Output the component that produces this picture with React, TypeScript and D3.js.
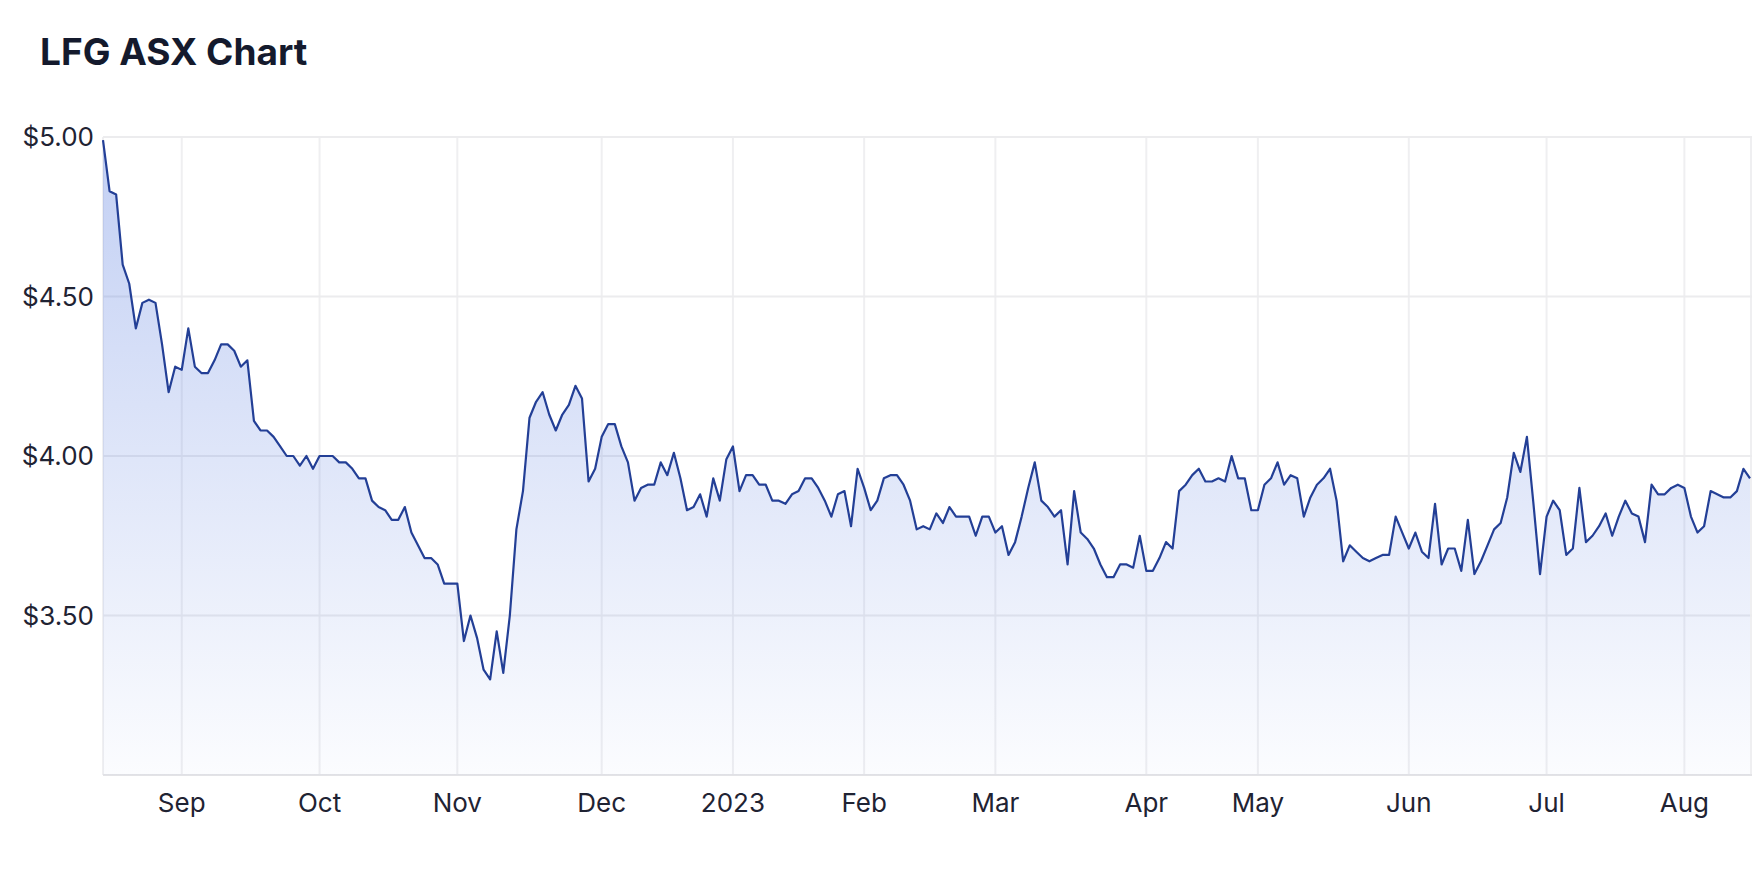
import React from "react";
import * as d3 from "d3";

const TITLE = "LFG ASX Chart";

// Daily closing prices (trading days, 16 Aug 2022 – 15 Aug 2023)
const prices: number[] = [
  4.99, 4.83, 4.82, 4.60, 4.54, 4.40, 4.48, 4.49, 4.48, 4.35,
  4.20, 4.28, 4.27, 4.40, 4.28, 4.26, 4.26, 4.30, 4.35, 4.35,
  4.33, 4.28, 4.30, 4.11, 4.08, 4.08, 4.06, 4.03, 4.00, 4.00,
  3.97, 4.00, 3.96, 4.00, 4.00, 4.00, 3.98, 3.98, 3.96, 3.93,
  3.93, 3.86, 3.84, 3.83, 3.80, 3.80, 3.84, 3.76, 3.72, 3.68,
  3.68, 3.66, 3.60, 3.60, 3.60, 3.42, 3.50, 3.43, 3.33, 3.30,
  3.45, 3.32, 3.50, 3.77, 3.89, 4.12, 4.17, 4.20, 4.13, 4.08,
  4.13, 4.16, 4.22, 4.18, 3.92, 3.96, 4.06, 4.10, 4.10, 4.03,
  3.98, 3.86, 3.90, 3.91, 3.91, 3.98, 3.94, 4.01, 3.93, 3.83,
  3.84, 3.88, 3.81, 3.93, 3.86, 3.99, 4.03, 3.89, 3.94, 3.94,
  3.91, 3.91, 3.86, 3.86, 3.85, 3.88, 3.89, 3.93, 3.93, 3.90,
  3.86, 3.81, 3.88, 3.89, 3.78, 3.96, 3.90, 3.83, 3.86, 3.93,
  3.94, 3.94, 3.91, 3.86, 3.77, 3.78, 3.77, 3.82, 3.79, 3.84,
  3.81, 3.81, 3.81, 3.75, 3.81, 3.81, 3.76, 3.78, 3.69, 3.73,
  3.81, 3.90, 3.98, 3.86, 3.84, 3.81, 3.83, 3.66, 3.89, 3.76,
  3.74, 3.71, 3.66, 3.62, 3.62, 3.66, 3.66, 3.65, 3.75, 3.64,
  3.64, 3.68, 3.73, 3.71, 3.89, 3.91, 3.94, 3.96, 3.92, 3.92,
  3.93, 3.92, 4.00, 3.93, 3.93, 3.83, 3.83, 3.91, 3.93, 3.98,
  3.91, 3.94, 3.93, 3.81, 3.87, 3.91, 3.93, 3.96, 3.86, 3.67,
  3.72, 3.70, 3.68, 3.67, 3.68, 3.69, 3.69, 3.81, 3.76, 3.71,
  3.76, 3.70, 3.68, 3.85, 3.66, 3.71, 3.71, 3.64, 3.80, 3.63,
  3.67, 3.72, 3.77, 3.79, 3.87, 4.01, 3.95, 4.06, 3.85, 3.63,
  3.81, 3.86, 3.83, 3.69, 3.71, 3.90, 3.73, 3.75, 3.78, 3.82,
  3.75, 3.81, 3.86, 3.82, 3.81, 3.73, 3.91, 3.88, 3.88, 3.90,
  3.91, 3.90, 3.81, 3.76, 3.78, 3.89, 3.88, 3.87, 3.87, 3.89,
  3.96, 3.93,
];

// Month labels and the trading-day index at which each month starts
const monthLabels: string[] = ["Sep", "Oct", "Nov", "Dec", "2023", "Feb", "Mar", "Apr", "May", "Jun", "Jul", "Aug"];
const monthStartIndex: number[] = [12, 33, 54, 76, 96, 116, 136, 159, 176, 199, 220, 241];

const yTicks: number[] = [3.5, 4.0, 4.5, 5.0];
const yDomain: [number, number] = [3.0, 5.0];

const W = 1760;
const H = 872;
const M = { left: 103, right: 1750, top: 137, bottom: 775 };
const FONT = "Inter, 'Noto Sans', 'DejaVu Sans', sans-serif";

export default function App() {
  const x = d3.scaleLinear().domain([0, prices.length - 1]).range([M.left, M.right]);
  const y = d3.scaleLinear().domain(yDomain).range([M.bottom, M.top]);

  const line = d3
    .line<number>()
    .x((_, i) => x(i))
    .y((d) => y(d));
  const area = d3
    .area<number>()
    .x((_, i) => x(i))
    .y0(M.bottom)
    .y1((d) => y(d));

  return (
    <svg
      width={W}
      height={H}
      style={{ position: "absolute", left: 0, top: 0, background: "#fff" }}
    >
      <defs>
        <linearGradient id="fillGrad" gradientUnits="userSpaceOnUse" x1="0" y1={M.top} x2="0" y2={M.bottom}>
          <stop offset="0%" stopColor="rgb(70,110,220)" stopOpacity={0.33} />
          <stop offset="100%" stopColor="rgb(70,110,220)" stopOpacity={0.02} />
        </linearGradient>
      </defs>

      <text x={40} y={65} fontFamily={FONT} fontWeight={700} fontSize={37} fill="#141a2d">
        {TITLE}
      </text>

      {/* vertical grid lines */}
      {monthStartIndex.map((idx, k) => (
        <line key={"vg" + k} x1={x(idx)} x2={x(idx)} y1={M.top} y2={M.bottom} stroke="#efeff1" strokeWidth={2} />
      ))}
      <line x1={M.left} x2={M.left} y1={M.top} y2={M.bottom} stroke="#efeff1" strokeWidth={2} />
      <line x1={M.right + 1} x2={M.right + 1} y1={M.top} y2={M.bottom} stroke="#efeff1" strokeWidth={2} />

      {/* horizontal grid lines */}
      {yTicks.map((t) => (
        <line key={"hg" + t} x1={M.left} x2={M.right + 2} y1={y(t)} y2={y(t)} stroke="#ececee" strokeWidth={2} />
      ))}
      <line x1={M.left} x2={M.right + 2} y1={M.bottom} y2={M.bottom} stroke="#e3e3e6" strokeWidth={2} />

      <path d={area(prices) || ""} fill="url(#fillGrad)" />
      <path d={line(prices) || ""} fill="none" stroke="#233f96" strokeWidth={2.2} strokeLinejoin="round" />

      {/* y labels */}
      {yTicks.map((t) => (
        <text
          key={"yl" + t}
          x={94}
          y={y(t)}
          dy="0.35em"
          textAnchor="end"
          fontFamily={FONT}
          fontSize={26}
          fill="#1f2333"
        >
          {"$" + t.toFixed(2)}
        </text>
      ))}

      {/* x labels */}
      {monthStartIndex.map((idx, k) => (
        <text
          key={"xl" + k}
          x={x(idx)}
          y={812}
          textAnchor="middle"
          fontFamily={FONT}
          fontSize={26}
          fill="#1f2333"
        >
          {monthLabels[k]}
        </text>
      ))}
    </svg>
  );
}
